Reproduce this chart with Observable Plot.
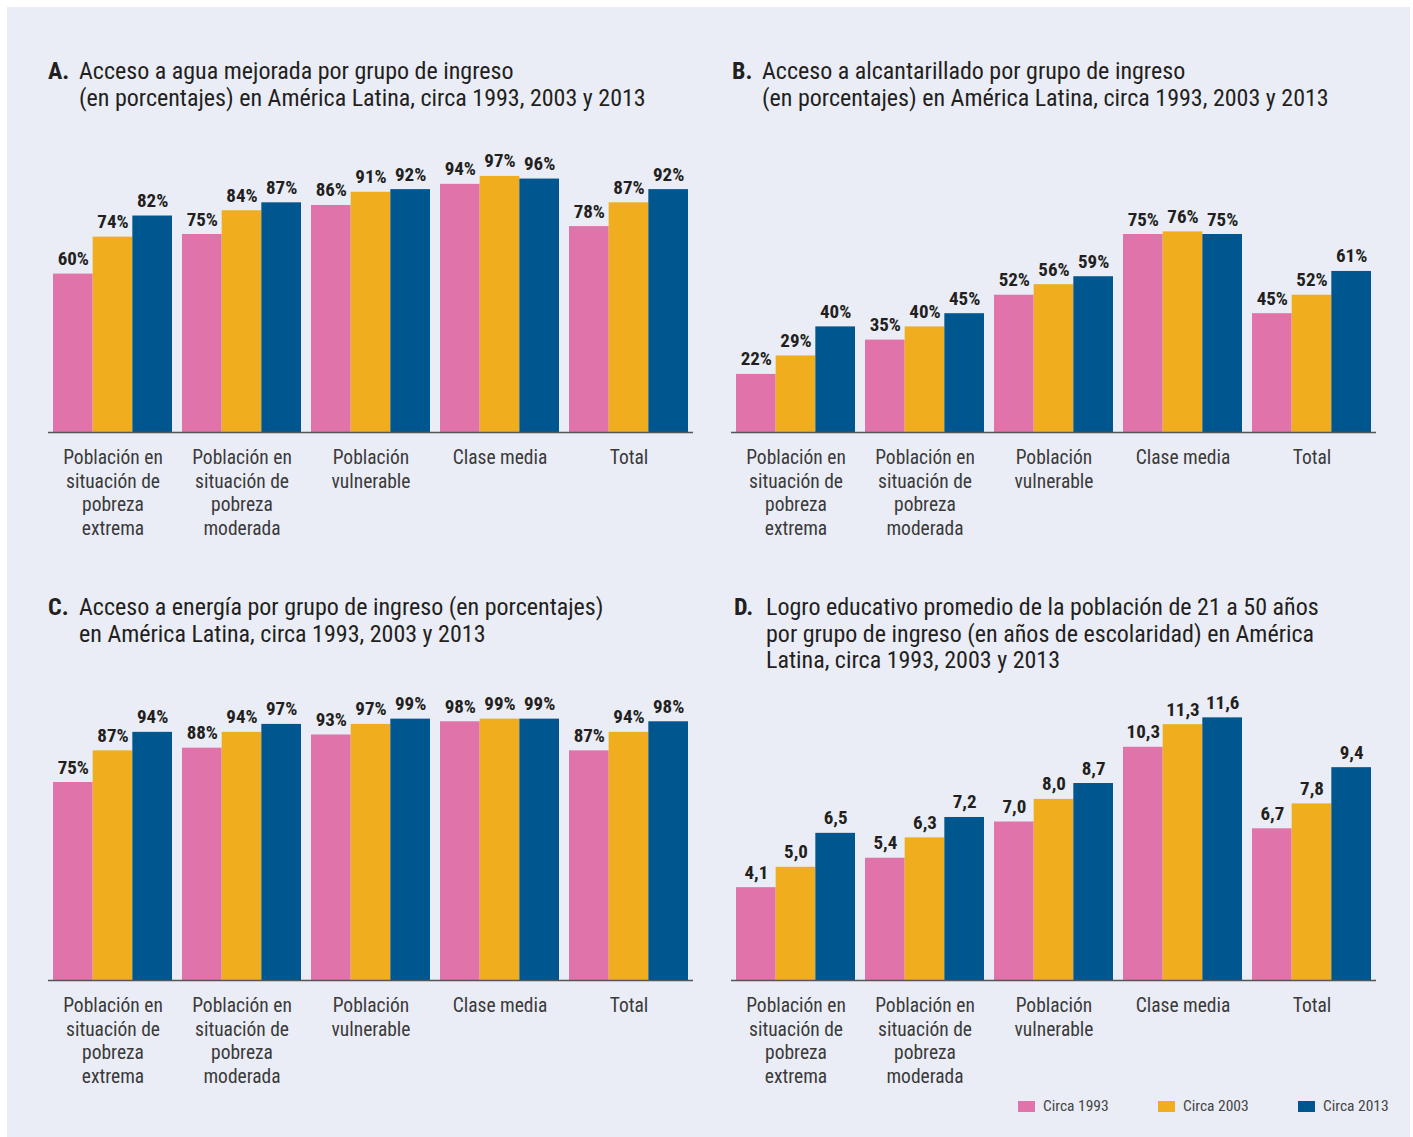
<!DOCTYPE html>
<html>
<head>
<meta charset="utf-8">
<script src="https://cdn.jsdelivr.net/npm/d3@7"></script>
<script src="https://cdn.jsdelivr.net/npm/@observablehq/plot@0.6"></script>
<style>
  html, body { margin: 0; padding: 0; background: #ffffff; }
  body { width: 1413px; height: 1137px; position: relative; overflow: hidden;
         font-family: "Roboto Condensed", Roboto, sans-serif; }
  #bg { position: absolute; left: 7px; top: 7px; width: 1403px; height: 1130px; background: #eaedf6; }
  .title { position: absolute; display: flex; font-size: 24px; line-height: 26.5px; color: #231f20; }
  .title .lab { font-weight: bold; flex: none; }
  .chart { position: absolute; }
  .legend { position: absolute; top: 1097px; left: 1018px; display: flex; font-size: 15.5px; color: #444; }
  .legend .item { display: flex; align-items: center; }
  .legend .sw { width: 17px; height: 11px; margin-right: 8px; }
</style>
</head>
<body>
<div id="bg"></div>
<div id="root"></div>
<script>
const groups = ["extrema", "moderada", "vulnerable", "media", "total"];
const groupLabels = [
  "Población en\nsituación de\npobreza\nextrema",
  "Población en\nsituación de\npobreza\nmoderada",
  "Población\nvulnerable",
  "Clase media",
  "Total"
];
const series = ["Circa 1993", "Circa 2003", "Circa 2013"];
const colors = ["#e073aa", "#f0ae1f", "#00568f"];

// values per group: [1993, 2003, 2013]
const aguaValues = [[60, 74, 82], [75, 84, 87], [86, 91, 92], [94, 97, 96], [78, 87, 92]];
const alcantValues = [[22, 29, 40], [35, 40, 45], [52, 56, 59], [75, 76, 75], [45, 52, 61]];
const energiaValues = [[75, 87, 94], [88, 94, 97], [93, 97, 99], [98, 99, 99], [87, 94, 98]];
const educValues = [[4.1, 5.0, 6.5], [5.4, 6.3, 7.2], [7.0, 8.0, 8.7], [10.3, 11.3, 11.6], [6.7, 7.8, 9.4]];

const titleA = ["A.", "Acceso a agua mejorada por grupo de ingreso<br>(en porcentajes) en América Latina, circa 1993, 2003 y 2013"];
const titleB = ["B.", "Acceso a alcantarillado por grupo de ingreso<br>(en porcentajes) en América Latina, circa 1993, 2003 y 2013"];
const titleC = ["C.", "Acceso a energía por grupo de ingreso (en porcentajes)<br>en América Latina, circa 1993, 2003 y 2013"];
const titleD = ["D.", "Logro educativo promedio de la población de 21 a 50 años<br>por grupo de ingreso (en años de escolaridad) en América<br>Latina, circa 1993, 2003 y 2013"];

const root = document.getElementById("root");
const FONT = '"Roboto Condensed", Roboto, sans-serif';

function toRows(values) {
  const rows = [];
  values.forEach((vals, i) => vals.forEach((v, j) => rows.push({group: groups[i], series: series[j], value: v})));
  return rows;
}

function addTitle(t, left, top, labW) {
  const d = document.createElement("div");
  d.className = "title";
  d.style.left = left + "px";
  d.style.top = top + "px";
  d.innerHTML = `<span class="lab" style="width:${labW}px">${t[0]}</span><span>${t[1]}</span>`;
  root.appendChild(d);
}

function addChart(values, yMax, fmt, left, top) {
  const data = toRows(values);
  const chart = Plot.plot({
    width: 700,
    height: 422,
    marginLeft: 53,
    marginRight: 12,
    marginTop: 38,
    marginBottom: 120,
    style: {background: "transparent", fontFamily: FONT, overflow: "visible"},
    fx: {domain: groups, paddingInner: 0.0775, paddingOuter: 0, round: false, label: null, axis: null},
    x: {domain: series, padding: 0, round: false, axis: null},
    y: {domain: [0, yMax], axis: null},
    color: {domain: series, range: colors},
    marks: [
      Plot.barY(data, {fx: "group", x: "series", y: "value", fill: "series"}),
      Plot.ruleY([0], {stroke: "#555", strokeWidth: 1.3, insetLeft: -5, insetRight: -5}),
      Plot.text(data, {fx: "group", x: "series", y: "value", text: d => fmt(d.value),
        lineAnchor: "bottom", dy: -9, fontWeight: "bold", fontSize: 19, fill: "#231f20"}),
      Plot.axisFx({domain: groups, anchor: "bottom", tickSize: 0, tickPadding: 14,
        tickFormat: g => groupLabels[groups.indexOf(g)], fontSize: 19.5, lineHeight: 1.23,
        fill: "#3a3a3a", label: null})
    ]
  });
  chart.classList.add("chart");
  chart.style.left = left + "px";
  chart.style.top = top + "px";
  root.appendChild(chart);
}

const pct = v => v + "%";
const dec = v => v.toFixed(1).replace(".", ",");

addTitle(titleA, 48, 58, 31);
addTitle(titleB, 732, 58, 30);
addTitle(titleC, 48, 594, 31);
addTitle(titleD, 734, 594, 32);

addChart(aguaValues, 100, pct, 0, 130);
addChart(alcantValues, 100, pct, 683, 130);
addChart(energiaValues, 100, pct, 0, 678);
addChart(educValues, 11.66, dec, 683, 678);

const legend = document.createElement("div");
legend.className = "legend";
series.forEach((s, i) => {
  const it = document.createElement("div");
  it.className = "item";
  it.style.width = i < series.length - 1 ? "140px" : "auto";
  it.innerHTML = `<span class="sw" style="background:${colors[i]}"></span><span>${s}</span>`;
  legend.appendChild(it);
});
root.appendChild(legend);
</script>
</body>
</html>
